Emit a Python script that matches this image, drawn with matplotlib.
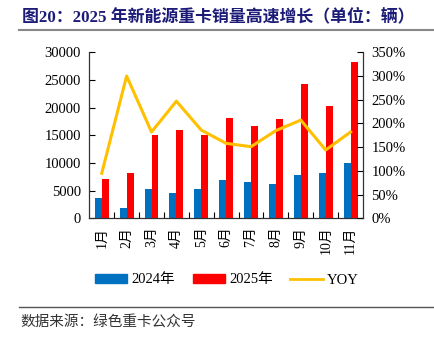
import numpy as np
import matplotlib
matplotlib.use("Agg")
import matplotlib.pyplot as plt
from matplotlib.lines import Line2D
from matplotlib.patches import Patch

plt.rcParams['font.family'] = ['Liberation Serif', 'Noto Sans CJK SC']

# data
months = ['1月', '2月', '3月', '4月', '5月', '6月', '7月', '8月', '9月', '10月', '11月']
sales_2024 = [3600, 1900, 5250, 4500, 5250, 6950, 6500, 6250, 7900, 8250, 10000]
sales_2025 = [7100, 8100, 15000, 15950, 15100, 18050, 16700, 17900, 24300, 20300, 28300]
yoy = [95, 300, 182, 247, 186, 158, 151, 185, 207, 144, 182]

blue = '#0070c0'
red = '#ff0000'
gold = '#ffc000'

fig = plt.figure(figsize=(4.35, 3.37), dpi=100)
ax = fig.add_axes([89.3 / 435, 1 - 218.3 / 337, 273.7 / 435, 166 / 337])
ax2 = ax.twinx()

x = np.arange(len(months))
w = 0.28
ax.bar(x - w / 2, sales_2024, w, color=blue, zorder=2)
ax.bar(x + w / 2, sales_2025, w, color=red, zorder=2)
ax2.plot(x, yoy, color=gold, lw=2.2, zorder=3)

ax.set_xlim(-0.5, len(months) - 0.5)
ax.set_ylim(0, 30000)
ax.set_yticks(np.arange(0, 30001, 5000))
ax2.set_ylim(0, 350)
ax2.set_yticks(np.arange(0, 351, 50))
ax2.set_yticklabels([f'{v}%' for v in range(0, 351, 50)])

ax.set_xticks(x)
ax.set_xticklabels(months, rotation=90, fontsize=10)
ax.set_xticks(np.arange(0.5, len(months) - 0.5, 1), minor=True)
ax.tick_params(axis='x', which='major', length=0, pad=6)
ax.tick_params(axis='x', which='minor', length=4, direction='in', width=0.8)
ax.tick_params(axis='y', direction='in', length=4, labelsize=10.5, pad=6)
ax2.tick_params(axis='y', direction='in', length=4, labelsize=10.5, pad=6)

for a in (ax, ax2):
    a.spines['top'].set_visible(False)
    for s in ('left', 'right', 'bottom'):
        a.spines[s].set_color('#333333')
        a.spines[s].set_linewidth(0.9)
ax.spines['right'].set_visible(False)
ax2.spines['left'].set_visible(False)
ax2.spines['bottom'].set_visible(False)

handles = [Patch(color=blue, label='2024年'), Patch(color=red, label='2025年'),
           Line2D([0], [0], color=gold, lw=2, label='YOY')]
fig.legend(handles=handles, loc='center', bbox_to_anchor=(227 / 435, 1 - 280 / 337),
           ncol=3, frameon=False, fontsize=10.5, handlelength=2.2, handleheight=0.6,
           columnspacing=1.2, handletextpad=0.3)

fig.text(22 / 435, 1 - 17 / 337, '图20：2025 年新能源重卡销量高速增长（单位：辆）',
         fontsize=12.2, fontweight='bold', color='#1c1c78', va='center', ha='left')
fig.add_artist(Line2D([19 / 435, 1], [1 - 30 / 337] * 2, color='#888888', lw=1.5))
fig.add_artist(Line2D([19 / 435, 1], [1 - 307 / 337] * 2, color='#555555', lw=1))
fig.text(20 / 435, 1 - 322 / 337, '数据来源：绿色重卡公众号', fontsize=10.5,
         color='#333333', va='center', ha='left')

fig.savefig('out.png', dpi=100)
